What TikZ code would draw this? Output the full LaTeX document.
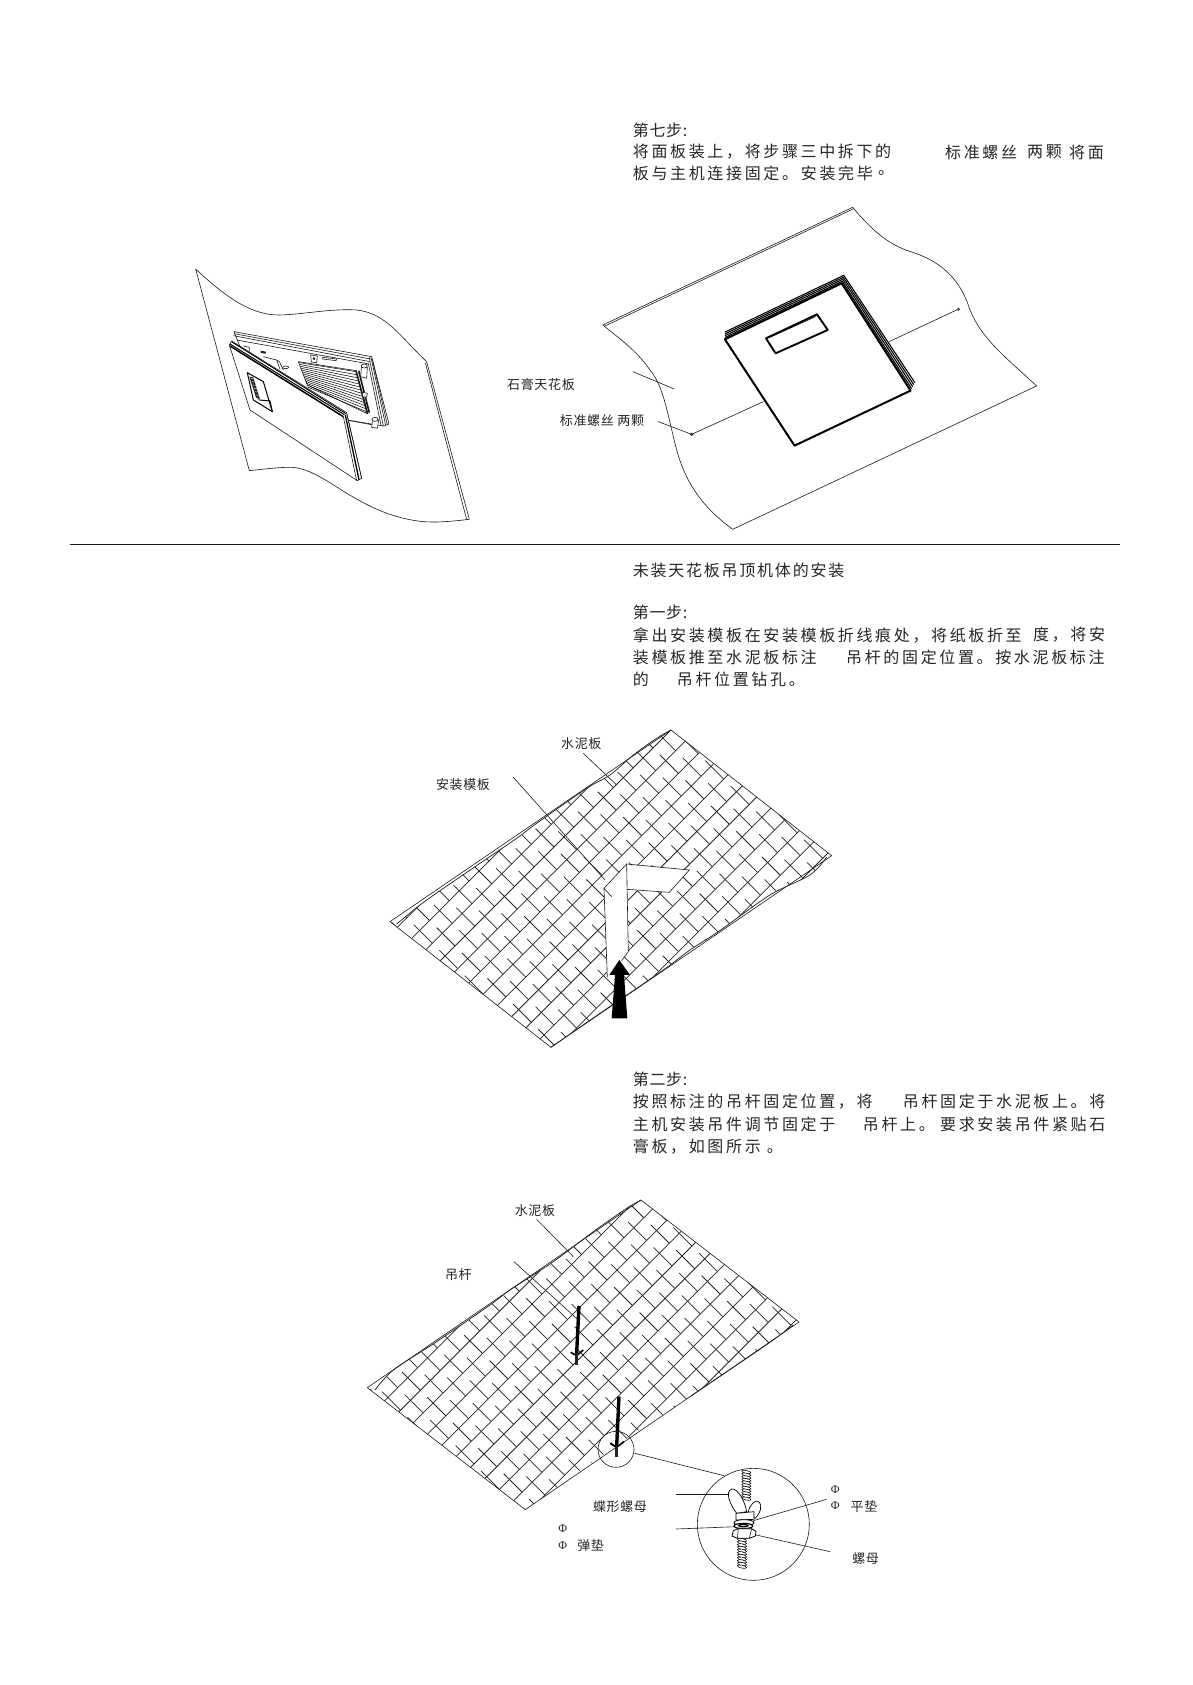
\documentclass[tikz,border=0pt]{standalone}
\usepackage{fontspec}
\setmainfont{Liberation Sans}
\newfontfamily\cjkb[LetterSpace=16.5]{Noto Sans CJK SC}
\newfontfamily\cjkt[LetterSpace=11]{Noto Sans CJK SC}
\newfontfamily\cjkh[LetterSpace=4]{Noto Sans CJK SC}
\newfontfamily\cjkl[LetterSpace=5]{Noto Sans CJK SC}
\newfontfamily\phif{Liberation Serif}
\tikzset{
  zm/.style 2 args={shift={(#1,#2)},x=0.3333pt,y=-0.3333pt},
  zmr/.style 2 args={shift={(#1,#2)},x=0.357pt,y=-0.3333pt},
  ln/.style={line width=0.6pt,draw=black!90},
  hair/.style={line width=0.75pt,draw=black!85},
  body/.style={anchor=west,inner sep=0pt,font=\cjkb\fontsize{16}{18}\selectfont,text=black!85},
  titl/.style={anchor=west,inner sep=0pt,font=\cjkt\fontsize{16}{18}\selectfont,text=black!85},
  head/.style={anchor=west,inner sep=0pt,font=\cjkh\fontsize{16}{18}\selectfont,text=black!85},
  lab/.style={inner sep=0pt,font=\cjkl\fontsize{13}{15}\selectfont,text=black!85},
  phil/.style={inner sep=0pt,font=\phif\fontsize{12}{14}\selectfont,text=black!85},
}
% brick hatch at 45 degrees: #1,#2 origin (pixels), #3 row height, #4 brick length
\newcommand\brickhatch[4]{%
  \begin{scope}[shift={(#1,#2)},x={(0.7071pt,0.7071pt)},y={(0.7071pt,-0.7071pt)}]
    \foreach \i in {-13,...,13}{
      \draw[hair] (-340,{\i*#3}) -- (340,{\i*#3});
      \pgfmathsetmacro\off{abs(mod(\i,2))*#4/2}
      \foreach \j in {-13,...,13}{
        \draw[hair] ({\j*#4+\off},{(\i-0.45)*#3}) -- ({\j*#4+\off},{(\i+1)*#3});
      }
    }
  \end{scope}}
\newcommand\threadseg[3]{% x, y start, count; in current units
  \foreach \k in {0,...,#3}{
    \draw[line width=0.55pt,fill=white,rotate around={-12:(#1,#2+\k*8)}] (#1,#2+\k*8) ellipse [x radius=14,y radius=4.4];
  }}
\begin{document}
\begin{tikzpicture}[x=1pt,y=-1pt]
\useasboundingbox (0,0) rectangle (1192,1685);
\fill[white] (0,0) rectangle (1192,1685);

% ---------- texts, upper block
\node[head] (t1) at (632.7,130) {第七步:};
\node[body] (t2) at (632.7,152) {将面板装上，将步骤三中拆下的};
\node[body] (t2b) at (945,152) {标准螺丝};
\node[body] (t2c) at (1027,152) {两颗};
\node[body] (t2d) at (1069,152) {将面};
\node[body] (t3) at (632.7,173.5) {板与主机连接固定。};
\node[body] (t3b) at (800.7,173.5) {安装完毕};
\node[body] (t3c) at (878,173.5) {。};

\draw[ln] (70,544) -- (1120,544);

\node[titl] (t4) at (632.7,570.7) {未装天花板吊顶机体的安装};
\node[head] (t5) at (632.7,612) {第一步:};
\node[body] (t6) at (632.7,635) {拿出安装模板在安装模板折线痕处，将纸板折至};
\node[body] (t6b) at (1033,635) {度，将安};
\node[body] (t7) at (632.7,657) {装模板推至水泥板标注};
\node[body] (t7b) at (846,657) {吊杆的固定位置。按水泥板标注};
\node[body] (t8) at (632.7,679.3) {的};
\node[body] (t8b) at (676.7,679.3) {吊杆位置钻孔。};

\node[head] (t9) at (632.7,1079.3) {第二步:};
\node[body] (t10) at (632.7,1101.7) {按照标注的吊杆固定位置，将};
\node[body] (t10b) at (902.7,1101.7) {吊杆固定于水泥板上。将};
\node[body] (t11) at (632.7,1124.3) {主机安装吊件调节固定于};
\node[body] (t11b) at (862.7,1124.3) {吊杆上。};
\node[body] (t11c) at (940,1124.3) {要求安装吊件紧贴石};
\node[body] (t12) at (632.7,1146.7) {膏板，如图所示 。};

% ---------- left figure: sheet
\begin{scope}[zm={150}{180}]
  \draw[ln,line join=round] (137,267) .. controls (220,345) and (300,405) .. (385,405)
     .. controls (450,405) and (540,385) .. (620,390)
     .. controls (710,400) and (750,470) .. (830,545)
     -- (958,1018)
     .. controls (900,1025) and (860,1028) .. (820,1025)
     .. controls (720,1015) and (650,975) .. (590,940)
     .. controls (520,895) and (470,862) .. (420,862)
     .. controls (380,862) and (340,868) .. (298,872)
     -- cycle;
  \draw[ln] (826,548) -- (950,1018);
\end{scope}
% left figure: unit and panel
\begin{scope}[zm={220}{320}]
  % back body
  \draw[ln,fill=white,line join=round] (42,35) -- (455,110) -- (507,312) -- (492,318) -- (380,300) -- (60,80) -- cycle;
  \draw[ln] (40,47) -- (450,125);
  \draw[ln] (42,41) -- (452,117);
  \draw[ln] (50,60) -- (447,132);
  \draw[ln] (448,112) -- (450,125) -- (490,318);
  \draw[ln] (453,112) -- (497,316);
  \draw[ln] (457,118) -- (502,314);
  \draw[ln] (445,130) -- (483,316);
  \draw[ln] (380,300) -- (470,317);
  % fins
  \draw[ln,fill=white] (235,125) -- (408,152) -- (444,282) -- (262,195) -- cycle;
  \foreach \q in {0,...,13}{
    \draw[line width=0.5pt] ({238+\q*1.9},{128+\q*5.6}) -- ({409+\q*2.7},{155+\q*9.4});
  }
  \draw[line width=1.6pt,black!90] (408,152) -- (442,280);
  \draw[line width=1.6pt,black!90] (416,152) -- (448,278);
  \draw[ln,fill=white] (425,135) -- (442,142) -- (440,175) -- (422,170) -- cycle;
  \draw[ln,fill=white] (433,138) ellipse [x radius=9,y radius=6];
  \draw[ln,fill=white] (458,296) -- (476,300) -- (472,325) -- (455,322) -- cycle;
  \draw[ln,fill=white] (465,298) ellipse [x radius=9,y radius=6];
  \draw[ln,fill=white] (428,217) -- (442,220) -- (440,232) -- (428,230) -- cycle;
  \draw[ln,fill=white] (272,105) -- (292,108) -- (290,128) -- (274,126) -- cycle;
  \draw[ln] (282,116) circle [radius=3];
  \draw[ln] (308,112) -- (350,117) -- (348,122) -- (308,117) -- cycle;
  \fill[black!85] (122,92) -- (138,95) -- (137,101) -- (122,99) -- cycle;
  \draw[ln] (70,78) -- (88,82) -- (88,95);
  \draw[ln] (130,110) -- (170,120) -- (180,148);
  \draw[ln] (170,120) -- (178,125) -- (190,150);
  \draw[ln] (197,142) ellipse [x radius=9,y radius=4];
  % panel
  \draw[ln,fill=white,line join=round] (35,63) -- (380,278) -- (425,475) -- (412,482) -- (90,270) -- (28,75) -- cycle;
  \draw[line width=1.5pt,black] (30,78) -- (370,290);
  \draw[line width=0.9pt,black] (36,66) -- (378,281);
  \draw[line width=1pt] (30,72) -- (373,284);
  \draw[ln] (370,290) -- (410,482);
  \draw[line width=1.3pt] (376,285) -- (417,479);
  \draw[ln] (380,280) -- (425,475);
  % window
  \draw[line width=1pt,fill=white,line join=round] (82,158) -- (130,185) -- (157,275) -- (100,240) -- cycle;
  \fill[black!85] (88,170) -- (100,172) -- (120,238) -- (108,232) -- cycle;
  \foreach \q in {0,...,5}{\draw[white,line width=.4pt] ({93+\q*3},{175+\q*10}) -- ({102+\q*3},{176+\q*10});}
  \draw[line width=1pt] (118,240) -- (150,243) -- (157,275);
  \draw[ln] (110,230) -- (118,240);
\end{scope}

% ---------- right figure
\begin{scope}[zmr={500}{180}]
  \draw[ln,line join=round] (288,435) -- (988,82)
     .. controls (1040,150) and (1090,195) .. (1150,215)
     .. controls (1240,245) and (1285,300) .. (1310,370)
     .. controls (1340,470) and (1410,525) .. (1503,618)
     -- (652,1048)
     .. controls (570,985) and (520,910) .. (495,810)
     .. controls (470,710) and (460,620) .. (420,570)
     .. controls (385,515) and (340,480) .. (288,435) -- cycle;
  \draw[ln] (292,439) -- (991,86);
  \draw[ln] (372,575) -- (488,627);
  \draw[ln] (443,725) -- (537,763);
  \draw[ln] (537,763) -- (738,665);
  \draw[ln] (1090,485) -- (1283,388);
  \fill[black!85] (537,763) circle [radius=5];
  \fill[black!70] (1284,388) circle [radius=5];
  % stacked edges
  \foreach \d in {0,3,6,9,12}{
    \draw[line width=1.1pt] ({630},{478-\d*1.8}) -- ({957+\d*0.5},{310-\d*2}) -- ({1150+\d*1},{632-\d*2});
  }
  \draw[line width=2pt,black,fill=white,line join=round] (630,478) -- (957,310) -- (1150,632) -- (825,797) -- cycle;
  \draw[line width=1.9pt,line join=round] (745,475) -- (888,403) -- (918,450) -- (772,520) -- cycle;
  \draw[line width=0.6pt] (756,472) -- (884,410);
\end{scope}
\node[lab] (lblsg) at (541,385) {石膏天花板};
\node[lab] (lblbz) at (602,421) {标准螺丝 两颗};

% ---------- board 1
\begin{scope}
  \clip[zm={380}{720}] (30,605) -- plot[smooth,tension=.5] coordinates {(50,612) (120,555) (180,512) (300,430) (410,355) (470,310) (620,205) (690,165) (760,105) (830,55) (873,30)} -- (1355,407) -- plot[smooth,tension=.5] coordinates {(1340,412) (1290,465) (1170,525) (1015,635) (930,690) (850,750) (660,880) (513,982)} -- cycle;
  \brickhatch{614.8}{888}{18}{28}
\end{scope}
\begin{scope}[zm={380}{720}]
  \draw[ln,line join=round] (30,605) -- (873,30) -- (1355,407) -- (513,982) -- cycle;
  \draw[hair] plot[smooth,tension=.5] coordinates {(50,612) (120,555) (180,512) (300,430) (410,355) (470,310) (620,205) (690,165) (760,105) (830,55) (873,30)};
  \draw[hair] plot[smooth,tension=.5] coordinates {(1340,412) (1290,465) (1170,525) (1015,635) (930,690) (850,750) (660,880) (513,982)};
  \draw[ln] (610,100) -- (710,195);
  \draw[ln] (400,172) -- (675,480);
  \fill[white] (672,505) -- (740,435) -- (928,450) -- (868,517) -- (743,510) -- (745,695) -- (682,772) -- cycle;
  \draw[ln,line join=round] (695,530) -- (672,505) -- (682,772);
  \draw[ln] (672,505) -- (740,432) -- (928,450) -- (868,517) -- (740,508);
  \draw[ln] (740,432) -- (745,695) -- (725,722);
  \fill[black] (718,720) -- (750,765) -- (732,765) -- (742,895) -- (695,895) -- (705,765) -- (688,765) -- cycle;
\end{scope}
\node[lab] (lblsn1) at (581.3,743.3) {水泥板};
\node[lab] (lblmb) at (463,785) {安装模板};

% ---------- board 2
\begin{scope}
  \clip[zm={360}{1190}] (22,593) -- plot[smooth,tension=.5] coordinates {(45,600) (100,540) (230,455) (390,345) (450,300) (580,215) (700,125) (800,55) (843,30)} -- (1317,396) -- plot[smooth,tension=.5] coordinates {(1300,405) (1240,450) (1160,505) (990,620) (800,745) (496,959)} -- cycle;
  \brickhatch{583}{1355}{18}{28}
\end{scope}
\begin{scope}[zm={360}{1190}]
  \draw[ln,line join=round] (22,593) -- (843,30) -- (1317,396) -- (496,959) -- cycle;
  \draw[hair] plot[smooth,tension=.5] coordinates {(45,600) (100,540) (230,455) (390,345) (450,300) (580,215) (700,125) (800,55) (843,30)};
  \draw[hair] plot[smooth,tension=.5] coordinates {(1300,405) (1240,450) (1160,505) (990,620)};
  \draw[ln] (530,88) -- (640,200);
  \draw[ln] (462,215) -- (655,390);
  \draw[line width=3.4pt,black] (657,348) -- (650,490);
  \draw[line width=1.6pt,black] (632,487) -- (650,497) -- (670,480);
  \draw[line width=3pt,black!85] (650,490) -- (650,525);
  \draw[line width=3.4pt,black] (777,620) -- (770,770);
  \draw[line width=1.6pt,black] (750,760) -- (770,772) -- (792,755);
  \draw[line width=3pt,black!85] (770,770) -- (770,800);
\end{scope}

% ---------- detail
\begin{scope}[zm={540}{1420}]
  \draw[ln] (228,88) circle [radius=54];
  \draw[ln] (285,100) -- (552,167);
  \draw[ln,fill=white] (640,313) circle [radius=168];
  \draw[ln] (408,223) -- (565,223);
  \draw[ln] (408,327) -- (590,320);
  \draw[ln] (860,238) -- (640,302);
  \draw[ln] (870,395) -- (640,343);
\end{scope}
\begin{scope}[zm={680}{1460}]
  \threadseg{199}{36}{10}
  \threadseg{186}{232}{11}
  % wing nut
  \draw[line width=0.7pt,fill=white] (170,160) .. controls (148,130) and (135,95) .. (155,87) .. controls (175,85) and (195,125) .. (200,155) -- cycle;
  \draw[line width=0.7pt,fill=white] (205,155) .. controls (210,130) and (235,110) .. (242,135) .. controls (245,155) and (230,170) .. (225,175) -- cycle;
  \draw[line width=0.7pt,fill=white] (168,160) -- (222,155) -- (222,178) -- (168,180) -- cycle;
  \draw[line width=0.8pt,fill=white] (192,188) ellipse [x radius=30,y radius=9];
  \draw[line width=1.2pt,fill=white] (190,198) ellipse [x radius=28,y radius=8];
  \draw[line width=1.2pt] (190,197) ellipse [x radius=14,y radius=3.5];
  \draw[line width=0.8pt,fill=white,line join=round] (160,212) -- (175,206) -- (215,206) -- (228,214) -- (226,228) -- (208,235) -- (172,235) -- (156,228) -- cycle;
  \draw[ln] (175,206) -- (172,235);
  \draw[ln] (215,206) -- (208,235);
\end{scope}
\begin{scope}[zm={540}{1420}]
  \node[lab] (lblde) at (240,259) {蝶形螺母};
  \node[phil] (p1) at (68,327) {Φ};
  \node[phil] (p2) at (68,377) {Φ};
  \node[lab] (lbltd) at (152,378) {弹垫};
  \node[phil] (p3) at (886,208) {Φ};
  \node[phil] (p4) at (886,258) {Φ};
  \node[lab] (lblpd) at (972,260) {平垫};
  \node[lab] (lblnut) at (977,417) {螺母};
\end{scope}
\begin{scope}[zm={360}{1190}]
  \node[lab] (lblsn2) at (525,62) {水泥板};
  \node[lab] (lbldg) at (295,255) {吊杆};
\end{scope}
\end{tikzpicture}
\end{document}
